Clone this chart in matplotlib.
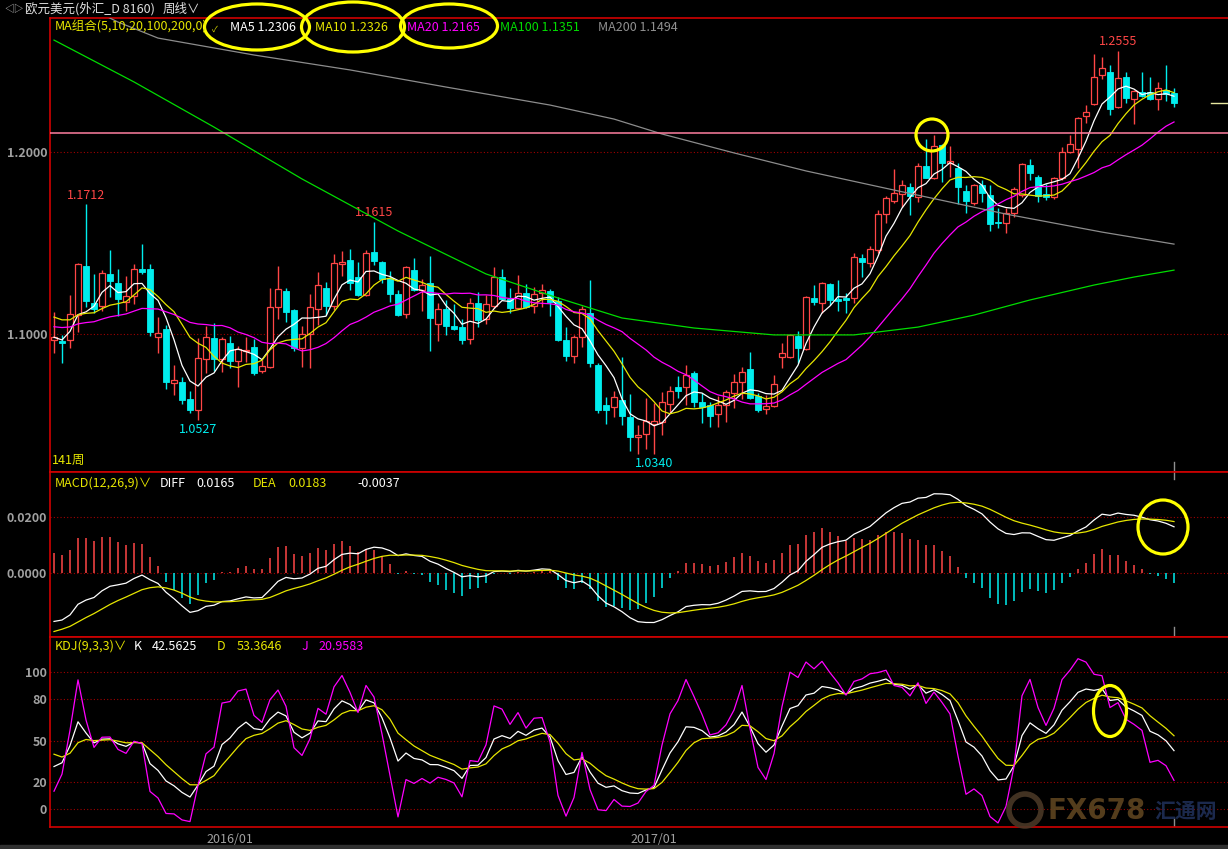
import numpy as np
import pandas as pd
import matplotlib
matplotlib.use("Agg")
import matplotlib.pyplot as plt
from matplotlib.patches import Ellipse

plt.rcParams['font.family'] = ['Noto Sans CJK SC', 'DejaVu Sans']

# weekly EUR/USD candles (141 weeks)
opens = [1.0965, 1.0962, 1.0965, 1.1104, 1.1374, 1.1169, 1.1156, 1.1328, 1.1278, 1.1178,
         1.1211, 1.1357, 1.1355, 1.0986, 1.1028, 1.0729, 1.0738, 1.0643, 1.0582, 1.0861,
         1.0976, 1.0863, 1.0949, 1.0852, 1.0905, 1.0927, 1.0795, 1.0817, 1.1147, 1.1236,
         1.1132, 1.0921, 1.1000, 1.1136, 1.1255, 1.1154, 1.1383, 1.1407, 1.1311, 1.1214,
         1.1451, 1.1396, 1.1306, 1.1220, 1.1112, 1.1352, 1.1242, 1.1278, 1.1053, 1.1136,
         1.1044, 1.1037, 1.0971, 1.1169, 1.1081, 1.1154, 1.1315, 1.1194, 1.1145, 1.1227,
         1.1154, 1.1227, 1.1236, 1.1183, 1.0967, 1.0881, 1.0982, 1.1114, 1.0830, 1.0610,
         1.0597, 1.0637, 1.0542, 1.0432, 1.0449, 1.0504, 1.0518, 1.0615, 1.0711, 1.0707,
         1.0784, 1.0626, 1.0610, 1.0559, 1.0610, 1.0678, 1.0735, 1.0806, 1.0661, 1.0586,
         1.0606, 1.0875, 1.0875, 1.0989, 1.0918, 1.1200, 1.1172, 1.1275, 1.1192, 1.1198,
         1.1196, 1.1416, 1.1392, 1.1462, 1.1658, 1.1733, 1.1769, 1.1810, 1.1755, 1.1923,
         1.1855, 1.2039, 1.1941, 1.1914, 1.1786, 1.1722, 1.1819, 1.1764, 1.1614, 1.1612,
         1.1667, 1.1764, 1.1929, 1.1865, 1.1769, 1.1755, 1.1855, 1.1998, 1.2015, 1.2196,
         1.2262, 1.2423, 1.2438, 1.2245, 1.2410, 1.2289, 1.2332, 1.2332, 1.2289, 1.2341,
         1.2326]
highs = [1.1123, 1.0995, 1.1214, 1.1392, 1.1712, 1.1330, 1.1352, 1.1462, 1.1355, 1.1319,
         1.1385, 1.1495, 1.1385, 1.1092, 1.1050, 1.0830, 1.0762, 1.0687, 1.0976, 1.1044,
         1.1059, 1.0985, 1.0989, 1.0934, 1.0982, 1.0971, 1.0857, 1.1251, 1.1374, 1.1251,
         1.1136, 1.1044, 1.1220, 1.1343, 1.1288, 1.1440, 1.1456, 1.1467, 1.1396, 1.1462,
         1.1615, 1.1399, 1.1346, 1.1242, 1.1374, 1.1416, 1.1300, 1.1429, 1.1169, 1.1187,
         1.1165, 1.1081, 1.1196, 1.1233, 1.1214, 1.1366, 1.1355, 1.1251, 1.1322, 1.1275,
         1.1256, 1.1275, 1.1245, 1.1205, 1.1040, 1.0995, 1.1154, 1.1297, 1.0839, 1.0652,
         1.0687, 1.0872, 1.0670, 1.0500, 1.0650, 1.0619, 1.0683, 1.0714, 1.0769, 1.0830,
         1.0797, 1.0678, 1.0628, 1.0659, 1.0692, 1.0780, 1.0821, 1.0899, 1.0674, 1.0665,
         1.0775, 1.0949, 1.1000, 1.1018, 1.1209, 1.1269, 1.1284, 1.1278, 1.1297, 1.1223,
         1.1443, 1.1440, 1.1484, 1.1681, 1.1758, 1.1905, 1.1846, 1.1828, 1.1941, 1.2072,
         1.2093, 1.2042, 1.2033, 1.1938, 1.1819, 1.1824, 1.1846, 1.1819, 1.1690, 1.1690,
         1.1810, 1.1941, 1.1962, 1.1874, 1.1824, 1.1865, 1.2029, 1.2093, 1.2191, 1.2258,
         1.2539, 1.2520, 1.2478, 1.2555, 1.2438, 1.2341, 1.2441, 1.2410, 1.2387, 1.2478,
         1.2350]
lows = [1.0894, 1.0843, 1.0921, 1.1013, 1.1150, 1.1114, 1.1126, 1.1205, 1.1099, 1.1128,
        1.1165, 1.1330, 1.0991, 1.0894, 1.0698, 1.0665, 1.0615, 1.0564, 1.0527, 1.0784,
        1.0799, 1.0793, 1.0811, 1.0707, 1.0848, 1.0775, 1.0784, 1.0811, 1.1081, 1.1068,
        1.0909, 1.0821, 1.0815, 1.1050, 1.1104, 1.1132, 1.1319, 1.1242, 1.1209, 1.1211,
        1.1379, 1.1278, 1.1178, 1.1099, 1.1090, 1.1238, 1.1128, 1.0909, 1.0964, 1.0995,
        1.1022, 1.0945, 1.0945, 1.1040, 1.1055, 1.1141, 1.1187, 1.1117, 1.1136, 1.1143,
        1.1117, 1.1147, 1.1099, 1.0964, 1.0854, 1.0843, 1.0931, 1.0821, 1.0564, 1.0506,
        1.0546, 1.0500, 1.0359, 1.0341, 1.0366, 1.0340, 1.0445, 1.0568, 1.0646, 1.0610,
        1.0601, 1.0513, 1.0487, 1.0487, 1.0518, 1.0592, 1.0641, 1.0641, 1.0573, 1.0560,
        1.0597, 1.0815, 1.0866, 1.0839, 1.0912, 1.1159, 1.1114, 1.1159, 1.1128, 1.1114,
        1.1168, 1.1311, 1.1366, 1.1443, 1.1612, 1.1722, 1.1696, 1.1654, 1.1727, 1.1855,
        1.1852, 1.1837, 1.1865, 1.1714, 1.1667, 1.1709, 1.1727, 1.1568, 1.1581, 1.1553,
        1.1645, 1.1755, 1.1846, 1.1727, 1.1736, 1.1740, 1.1846, 1.1993, 1.1910, 1.2161,
        1.2258, 1.2399, 1.2203, 1.2240, 1.2267, 1.2154, 1.2304, 1.2286, 1.2231, 1.2282,
        1.2249]
closes = [1.0982, 1.0953, 1.1108, 1.1383, 1.1183, 1.1137, 1.1333, 1.1293, 1.1192, 1.1209,
          1.1355, 1.1341, 1.1013, 1.1004, 1.0738, 1.0747, 1.0637, 1.0582, 1.0866, 1.0982,
          1.0863, 1.0971, 1.0854, 1.0916, 1.0912, 1.0788, 1.0826, 1.1150, 1.1246, 1.1123,
          1.0921, 1.1000, 1.1147, 1.1267, 1.1154, 1.1388, 1.1396, 1.1278, 1.1214, 1.1443,
          1.1401, 1.1302, 1.1220, 1.1105, 1.1366, 1.1242, 1.1267, 1.1090, 1.1136, 1.1046,
          1.1030, 1.0967, 1.1172, 1.1077, 1.1163, 1.1315, 1.1191, 1.1145, 1.1227, 1.1147,
          1.1220, 1.1242, 1.1178, 1.0967, 1.0879, 1.0985, 1.1136, 1.0843, 1.0583, 1.0583,
          1.0656, 1.0551, 1.0436, 1.0443, 1.0524, 1.0524, 1.0628, 1.0689, 1.0689, 1.0775,
          1.0628, 1.0597, 1.0551, 1.0610, 1.0683, 1.0735, 1.0793, 1.0646, 1.0582, 1.0606,
          1.0723, 1.0894, 1.0995, 1.0925, 1.1201, 1.1178, 1.1278, 1.1187, 1.1183, 1.1189,
          1.1421, 1.1398, 1.1465, 1.1658, 1.1746, 1.1773, 1.1817, 1.1760, 1.1923, 1.1859,
          1.2035, 1.1941, 1.1950, 1.1810, 1.1731, 1.1819, 1.1777, 1.1603, 1.1608, 1.1667,
          1.1797, 1.1932, 1.1886, 1.1758, 1.1751, 1.1855, 1.1998, 1.2042, 1.2185, 1.2218,
          1.2414, 1.2460, 1.2234, 1.2405, 1.2295, 1.2335, 1.2308, 1.2289, 1.2350, 1.2319,
          1.2267]

# long averages (week index, value)
ma100_idx = [0, 10, 20, 31, 43, 54, 63, 71, 80, 90, 100, 108, 115, 122, 130, 135, 140]
ma100_val = [1.2615, 1.2385, 1.2137, 1.1852, 1.1566, 1.1330, 1.1198, 1.1088, 1.1033, 1.0995,
             1.0995, 1.1038, 1.1104, 1.1187, 1.1269, 1.1313, 1.1351]
ma200_idx = [4, 8, 13, 25, 37, 49, 62, 70, 76, 85, 94, 105, 119, 131, 140]
ma200_val = [1.2800, 1.2714, 1.2626, 1.2533, 1.2451, 1.2357, 1.2258, 1.2181, 1.2099, 1.1995,
             1.1896, 1.1791, 1.1659, 1.1560, 1.1494]

# indicator levels at the first week (the chart has history before it)
ma10_start, ma20_start = 1.1093, 1.1040
ema12_start, ema26_start, dea_start = 1.1050, 1.1223, -0.0209
k_start, d_start = 31.0, 40.0

resist = 1.2104
peaks = [4, 40, 133]
troughs = [18, 75]
date_ticks = [22, 75]
date_labels = ["2016/01", "2017/01"]

o = np.array(opens); h = np.array(highs); l = np.array(lows); c = np.array(closes)
n = len(c)
x = np.arange(n)

# moving averages
ma5 = pd.Series(c).rolling(5, min_periods=1).mean().values
pad10 = (10 * ma10_start - c[0]) / 9
ma10 = pd.Series(np.r_[np.full(9, pad10), c]).rolling(10).mean().values[9:]
pad20 = (20 * ma20_start - c[0]) / 19
ma20 = pd.Series(np.r_[np.full(19, pad20), c]).rolling(20).mean().values[19:]

# MACD(12,26,9)
ema12 = pd.Series(np.r_[ema12_start, c[1:]]).ewm(span=12, adjust=False).mean().values
ema26 = pd.Series(np.r_[ema26_start, c[1:]]).ewm(span=26, adjust=False).mean().values
diff = ema12 - ema26
dea = pd.Series(np.r_[dea_start, diff[1:]]).ewm(span=9, adjust=False).mean().values
macd = 2 * (diff - dea)

# KDJ(9,3,3)
llv = pd.Series(l).rolling(9, min_periods=1).min().values
hhv = pd.Series(h).rolling(9, min_periods=1).max().values
rsv = (c - llv) / (hhv - llv) * 100
kk = pd.Series(np.r_[k_start, rsv[1:]]).ewm(alpha=1/3, adjust=False).mean().values
dd = pd.Series(np.r_[d_start, kk[1:]]).ewm(alpha=1/3, adjust=False).mean().values
jj = 3 * kk - 2 * dd

RED = '#ff4646'
CYAN = '#00eeee'
BORDER = '#d00000'
GRID = '#a00000'
TICK = '#a0a0a0'

W, H = 1228, 849
fig = plt.figure(figsize=(W / 100, H / 100), dpi=100, facecolor='black')

def rect(x0, y0, x1, y1):
    return [x0 / W, 1 - y1 / H, (x1 - x0) / W, (y1 - y0) / H]

ax = fig.add_axes(rect(50, 18, 1228, 472))
ax2 = fig.add_axes(rect(50, 472, 1228, 637))
ax3 = fig.add_axes(rect(50, 637, 1228, 827))

for a in (ax, ax2, ax3):
    a.set_facecolor('black')
    for s in a.spines.values():
        s.set_color(BORDER)
        s.set_linewidth(1.2)
    a.spines['right'].set_visible(False)
    a.set_xlim(-0.5, 146.75)
    a.tick_params(axis='y', length=0, pad=2, labelcolor=TICK, labelsize=9)
    a.tick_params(axis='x', length=0)

# main panel: candles
ax.set_ylim(1.02418, 1.27363)
up = c >= o
ax.vlines(x, l, h, colors=np.where(up, RED, CYAN), linewidth=1, zorder=2)
body = np.maximum(np.abs(c - o), 0.00025)
ax.bar(x[up], body[up], bottom=o[up], width=0.72, facecolor='black', edgecolor=RED,
       linewidth=0.9, zorder=3)
ax.bar(x[~up], body[~up], bottom=c[~up], width=0.72, facecolor=CYAN, edgecolor=CYAN,
       linewidth=0.6, zorder=3)

ax.plot(x, ma5, color='white', lw=0.9, zorder=4)
ax.plot(x, ma10, color='#e6e600', lw=0.9, zorder=4)
ax.plot(x, ma20, color='#ff00ff', lw=0.9, zorder=4)
ax.plot(ma100_idx, ma100_val, color='#00dd00', lw=0.9, zorder=4)
ax.plot(ma200_idx, ma200_val, color='#8c8c8c', lw=0.9, zorder=4)

for v in (1.2, 1.1):
    ax.axhline(v, color=GRID, ls=(0, (1, 2)), lw=0.8, zorder=1)
ax.axhline(resist, color='#ff7fa0', lw=1.1, zorder=5)
ax.axhline(c[-1], xmin=(1211 - 50) / 1178, xmax=1, color='#e8e8a0', lw=1, zorder=5)
ax.axvline(x[-1], ymin=0, ymax=0.022, color='#909090', lw=1)

ax.set_yticks([1.2, 1.1])
ax.set_yticklabels(['1.2000', '1.1000'], fontweight='bold')
ax.set_xticks([])

for i in peaks:
    ax.annotate(f"{h[i]:.4f}", (i, h[i]), xytext=(0, 2), textcoords='offset points',
                ha='center', va='bottom', color=RED, fontsize=9)
for i in troughs:
    ax.annotate(f"{l[i]:.4f}", (i, l[i]), xytext=(0, -2), textcoords='offset points',
                ha='center', va='top', color=CYAN, fontsize=9)
ax.text(0.002, 0.012, "141周", transform=ax.transAxes, color='#e6e600', fontsize=9,
        ha='left', va='bottom')

# MACD panel
ax2.set_ylim(-0.022857, 0.036071)
ax2.vlines(x, 0, macd, colors=np.where(macd >= 0, RED, CYAN), linewidth=1.1)
ax2.plot(x, diff, color='white', lw=0.9)
ax2.plot(x, dea, color='#e6e600', lw=0.9)
for v in (0.02, 0.0):
    ax2.axhline(v, color=GRID, ls=(0, (1, 2)), lw=0.8, zorder=0)
ax2.set_yticks([0.02, 0.0])
ax2.set_yticklabels(['0.0200', '0.0000'], fontweight='bold')
ax2.set_xticks([])
ax2.axvline(x[-1], ymin=0.96, ymax=1, color='#909090', lw=1)
ax2.axvline(x[-1], ymin=0, ymax=0.06, color='#909090', lw=1)

# KDJ panel
ax3.set_ylim(-13.14, 125.55)
ax3.plot(x, kk, color='white', lw=0.9)
ax3.plot(x, dd, color='#e6e600', lw=0.9)
ax3.plot(x, jj, color='#ff00ff', lw=0.9)
for v in (100, 80, 50, 20, 0):
    ax3.axhline(v, color=GRID, ls=(0, (1, 2)), lw=0.8, zorder=0)
ax3.set_yticks([100, 80, 50, 20, 0])
ax3.set_yticklabels(['100', '80', '50', '20', '0'], fontweight='bold')
ax3.set_xticks(date_ticks)
ax3.set_xticklabels(date_labels)
ax3.tick_params(axis='x', pad=4, labelcolor=TICK, labelsize=9)
ax3.axvline(x[-1], ymin=0, ymax=0.05, color='#909090', lw=1)

# header texts, marks and watermark in pixel coordinates
ov = fig.add_axes([0, 0, 1, 1], zorder=10)
ov.set_xlim(0, W)
ov.set_ylim(H, 0)
ov.axis('off')
ov.patch.set_alpha(0)

ov.text(4, 9, "◁▷", color='#c8c8c8', fontsize=7, va='center')
ov.text(25, 9, "欧元美元(外汇_D 8160)", color='#e0e0e0', fontsize=9, va='center')
ov.text(163, 9, "周线∨", color='#e0e0e0', fontsize=9, va='center')

ov.text(55, 27, "MA组合(5,10,20,100,200,0)", color='#e6e600', fontsize=9, va='center')
ov.text(212, 29, "✓", color='#e6e600', fontsize=6, va='center')
ov.text(230, 27, "MA5 1.2306", color='white', fontsize=9, va='center')
ov.text(315, 27, "MA10 1.2326", color='#e6e600', fontsize=9, va='center')
ov.text(407, 27, "MA20 1.2165", color='#ff00ff', fontsize=9, va='center')
ov.text(500, 27, "MA100 1.1351", color='#00dd00', fontsize=9, va='center')
ov.text(598, 27, "MA200 1.1494", color='#909090', fontsize=9, va='center')

ov.text(55, 483, "MACD(12,26,9)∨", color='#e6e600', fontsize=9, va='center')
ov.text(160, 483, "DIFF", color='white', fontsize=9, va='center')
ov.text(196, 483, "0.0165", color='white', fontsize=9, va='center')
ov.text(253, 483, "DEA", color='#e6e600', fontsize=9, va='center')
ov.text(288, 483, "0.0183", color='#e6e600', fontsize=9, va='center')
ov.text(357, 483, "-0.0037", color='white', fontsize=9, va='center')

ov.text(55, 646, "KDJ(9,3,3)∨", color='#e6e600', fontsize=9, va='center')
ov.text(134, 646, "K", color='white', fontsize=9, va='center')
ov.text(152, 646, "42.5625", color='white', fontsize=9, va='center')
ov.text(217, 646, "D", color='#e6e600', fontsize=9, va='center')
ov.text(237, 646, "53.3646", color='#e6e600', fontsize=9, va='center')
ov.text(302, 646, "J", color='#ff00ff', fontsize=9, va='center')
ov.text(318, 646, "20.9583", color='#ff00ff', fontsize=9, va='center')

for cx, cy, ew, eh in [(257, 27, 105, 46), (353, 27, 103, 50), (449, 26, 97, 44),
                       (932, 135, 32, 32), (1163, 527, 50, 54), (1110, 711, 33, 51)]:
    ov.add_patch(Ellipse((cx, cy), ew, eh, fill=False, edgecolor='#ffff00', lw=2.3))

ov.add_patch(Ellipse((1025, 810), 32, 32, fill=False, edgecolor='#4a3826', lw=4, alpha=0.9))
ov.text(1047, 811, "FX678", color='#5e4420', fontsize=20, fontweight='bold',
        family='DejaVu Sans', va='center', alpha=0.9)
ov.text(1154, 811, "汇通网", color='#1d2c52', fontsize=15, fontweight='bold',
        va='center', alpha=0.95)
ov.add_patch(plt.Rectangle((0, 845), W, 4, color='#303030'))

fig.savefig("out.png", dpi=100, facecolor='black')
